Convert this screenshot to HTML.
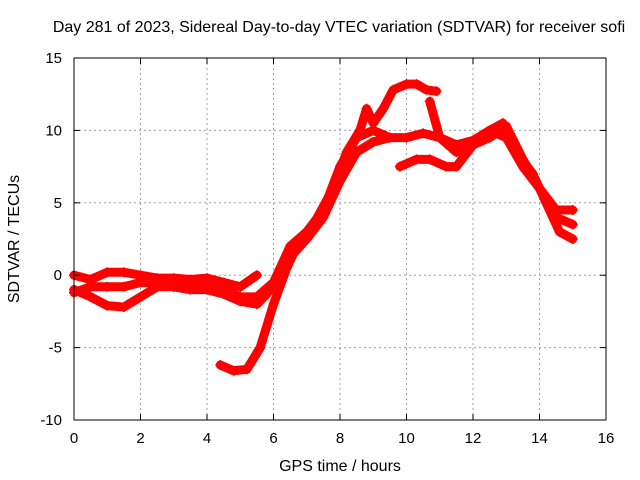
<!DOCTYPE html>
<html><head><meta charset="utf-8"><style>
body{margin:0;background:#fff}
svg{display:block;font-family:"Liberation Sans",Arial,sans-serif}
</style></head><body>
<svg id="c" width="640" height="480">
<text x="339" y="32" text-anchor="middle" font-size="16">Day 281 of 2023, Sidereal Day-to-day VTEC variation (SDTVAR) for receiver sofi</text>
<text x="340" y="471" text-anchor="middle" font-size="16">GPS time / hours</text>
<text transform="translate(19,239) rotate(-90)" text-anchor="middle" font-size="16">SDTVAR / TECUs</text>
<g id="grid"></g><g id="data"></g><g id="axes"></g>
</svg>
<script>
const xTicks=[0,2,4,6,8,10,12,14,16];
const yTicks=[-10,-5,0,5,10,15];
const trackA=[[0,-1],[0.5,-1.5],[1,-2.1],[1.5,-2.2],[2,-1.5],[2.5,-0.8],[3,-0.8],[3.5,-1],[4,-1],[4.5,-1.3],[5,-1.8],[5.5,-2],[5.8,-1.3],[6.2,0],[6.6,1.5],[7,2.5],[7.5,4],[8,6.5],[8.5,8.5],[9,9.2],[9.5,9.5],[10,9.5],[10.5,9.8],[11,9.5],[11.5,9],[12,9.3],[12.5,10],[13,9.5],[13.5,7.5],[14,6],[14.5,4],[15,3.5]];
const trackB=[[0,0],[0.5,-0.3],[1,0.2],[1.5,0.2],[2,0],[2.5,-0.2],[3,-0.2],[3.5,-0.3],[4,-0.2],[4.5,-0.5],[5,-0.8],[5.5,0]];
const trackC=[[0,-1.2],[0.5,-0.8],[1,-0.8],[1.5,-0.8],[2,-0.5],[2.5,-0.5],[3,-0.8],[3.5,-0.5],[4,-0.8],[4.5,-1],[5,-1.5],[5.5,-1.5],[6,-0.5],[6.5,2],[7,3],[7.5,4.5],[8,7.5],[8.5,9.5],[9,10],[9.5,9.5]];
const trackD=[[4.4,-6.2],[4.8,-6.6],[5.2,-6.5],[5.6,-5],[6,-2],[6.4,0.5],[6.8,2.5],[7.2,3.5],[7.8,6],[8.2,8.5],[8.6,10],[8.8,11.5],[9,10.5],[9.3,11.5],[9.6,12.8],[10,13.2],[10.3,13.2],[10.6,12.8],[10.9,12.7]];
const trackE=[[10.7,12],[11,9.5],[11.5,8.5],[12,9],[12.5,9.5],[13,10.3],[13.5,8],[14,6],[14.5,4.5],[15,4.5]];
const trackF=[[9.8,7.5],[10.3,8],[10.7,8],[11.2,7.5],[11.5,7.5],[12,9],[12.5,10],[12.9,10.5],[13.3,8.5],[13.8,7],[14.2,5],[14.6,3],[15,2.5]];
const tracks=[trackA,trackB,trackC,trackD,trackE,trackF];
const X0=74,X1=606,Y0=420,Y1=58;
const sx=v=>X0+(v-0)/16*(X1-X0), sy=v=>Y0-(v+10)/25*(Y0-Y1);
const NS='http://www.w3.org/2000/svg';
function mk(t,a,p){const e=document.createElementNS(NS,t);for(const k in a)e.setAttribute(k,a[k]);p.appendChild(e);return e;}
const grid=document.getElementById('grid'),axes=document.getElementById('axes'),data=document.getElementById('data');
xTicks.forEach(t=>{const x=sx(t);
 if(t>0&&t<16){const l=mk('line',{x1:x,x2:x,y1:Y1,y2:Y0,stroke:'#a0a0a0','stroke-dasharray':'2,3'},grid);}
 const tx=mk('text',{x:x,y:443,'text-anchor':'middle','font-size':'15'},axes);tx.textContent=t;
 
 mk('line',{x1:x,x2:x,y1:Y0,y2:Y0-6,stroke:'#000'},axes);mk('line',{x1:x,x2:x,y1:Y1,y2:Y1+6,stroke:'#000'},axes);});
yTicks.forEach(t=>{const y=sy(t);
 if(t>-10&&t<15){const l=mk('line',{x1:X0,x2:X1,y1:y,y2:y,stroke:'#a0a0a0','stroke-dasharray':'2,3'},grid);}
 const tx=mk('text',{x:62,y:y+5,'text-anchor':'end','font-size':'15'},axes);tx.textContent=t;
 
 mk('line',{x1:X0,x2:X0+6,y1:y,y2:y,stroke:'#000'},axes);mk('line',{x1:X1,x2:X1-6,y1:y,y2:y,stroke:'#000'},axes);});
const fr=mk('rect',{x:X0,y:Y1,width:X1-X0,height:Y0-Y1,fill:'none',stroke:'#000'},axes);

tracks.forEach((tr,i)=>{
 const pl=mk('polyline',{points:tr.map(p=>sx(p[0])+','+sy(p[1])).join(' '),fill:'none',stroke:'#ff0000','stroke-width':'9','stroke-linejoin':'round','stroke-linecap':'round'},data);
 
 
 tr.forEach(p=>{const x=sx(p[0]),y=sy(p[1]);
  const m=mk('path',{d:`M${x-5},${y}H${x+5}M${x},${y-5}V${y+5}`,stroke:'#ff0000','stroke-width':'1.5'},data);
  
  });
});
</script>
</body></html>
